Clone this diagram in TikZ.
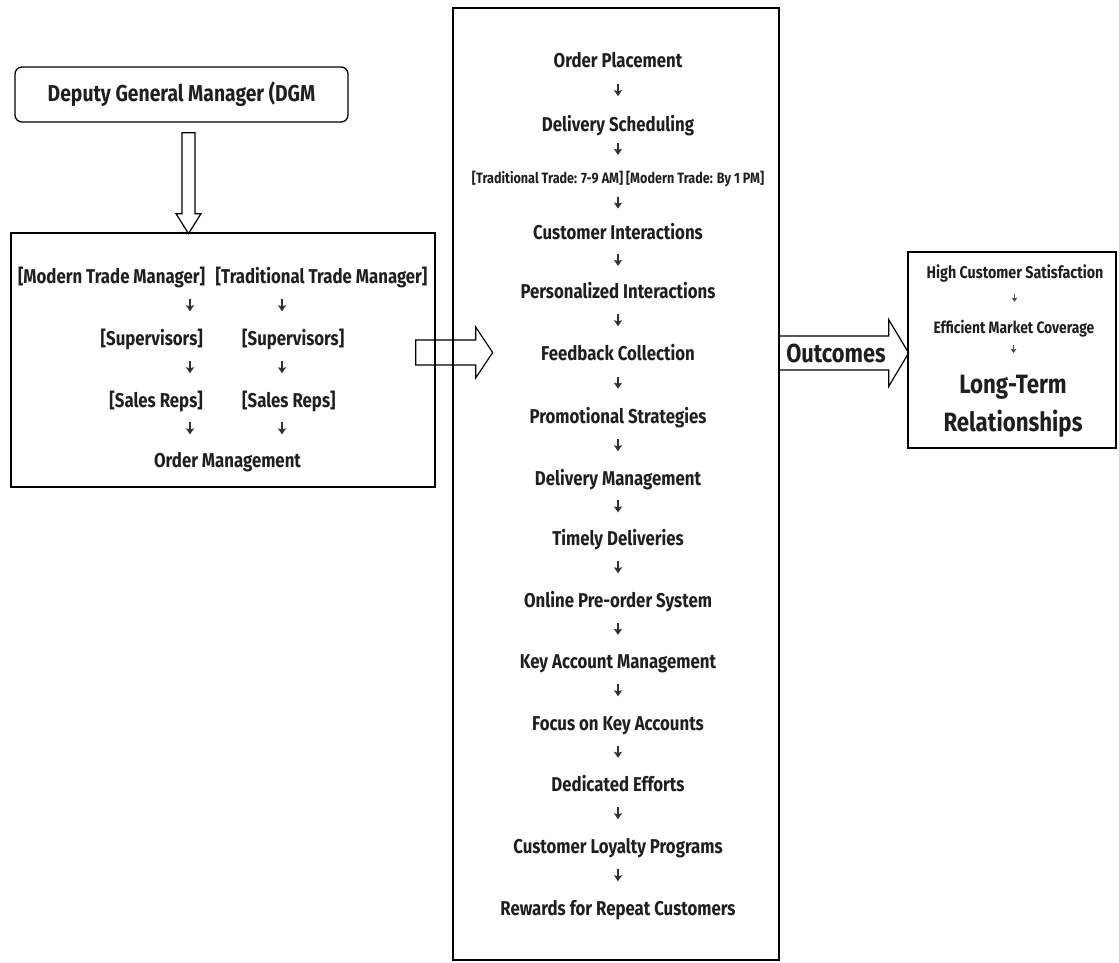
\documentclass[tikz,border=0pt]{standalone}
\usepackage{fontspec}
\setmainfont{Fira Sans}[FakeStretch=0.84]
\usetikzlibrary{positioning,calc,arrows.meta}
\tikzset{x=1pt, y=-1pt}
\tikzset{box/.style={draw, line width=1.3pt, inner sep=0pt}}
\tikzset{lbl/.style={inner sep=0pt, text height=14pt, text depth=4pt, text=black!88,
    font=\bfseries\fontsize{20}{22}\selectfont}}
\tikzset{hollow/.style={draw, line width=1.2pt, line join=miter}}
\tikzset{flowtick/.style={-{Stealth[length=6pt,width=8pt,inset=1pt]}, line width=1.5pt, draw=black!80,
    to path={($(\tikztostart)!#1!(\tikztotarget)$) ++(0,-6) -- ++(0,12)}},
  flowtick/.default=.44}
\tikzset{smalltick/.style={-{Stealth[length=4pt,width=5.5pt,inset=0.5pt]}, line width=1.1pt, draw=black!70,
    to path={($(\tikztostart)!#1!(\tikztotarget)$) ++(0,-4) -- ++(0,8)}},
  smalltick/.default=.45}

\begin{document}
\begin{tikzpicture}
\useasboundingbox (0,0) rectangle (1119,962);

% top manager
\node[box, rounded corners=7pt, minimum width=333pt, minimum height=55pt, text=black!88,
  font=\bfseries\fontsize{23}{27}\selectfont] (dgm) at (181.5,94.5) {Deputy General Manager (DGM};

% trade hierarchy
\node[box, minimum width=424pt, minimum height=254pt] (lbox) at (223,360) {};
\node[lbl] (mtm) at (111.5,278) {[Modern Trade Manager]};
\node[lbl] (ttm) at (321.5,278) {[Traditional Trade Manager]};
\node[lbl, anchor=east] (sup1) at (203,340) {[Supervisors]};
\node[lbl, anchor=west] (sup2) at (242,340) {[Supervisors]};
\node[lbl, anchor=east] (rep1) at (203,402) {[Sales Reps]};
\node[lbl, anchor=west] (rep2) at (242,402) {[Sales Reps]};
\node[lbl] (om) at (227.5,462) {Order Management};
\coordinate (colA) at (190,0);
\coordinate (colB) at (282,0);
\draw[flowtick] (mtm -| colA) to (sup1 -| colA);
\draw[flowtick] (sup1 -| colA) to (rep1 -| colA);
\draw[flowtick] (rep1 -| colA) to (om -| colA);
\draw[flowtick] (ttm -| colB) to (sup2 -| colB);
\draw[flowtick] (sup2 -| colB) to (rep2 -| colB);
\draw[flowtick] (rep2 -| colB) to (om -| colB);

% process chain
\node[box, minimum width=326pt, minimum height=952pt] (mbox) at (616,484) {};
\foreach \y/\t [count=\i] in {62/Order Placement, 126/Delivery Scheduling,
    178/{\fontsize{15}{17}\selectfont[Traditional Trade: 7-9 AM] [Modern Trade: By 1 PM]},
    234/Customer Interactions, 293/Personalized Interactions, 355/Feedback Collection,
    418/Promotional Strategies, 480/Delivery Management, 540/Timely Deliveries,
    602/Online Pre-order System, 663/Key Account Management, 725/Focus on Key Accounts,
    786/Dedicated Efforts, 848/Customer Loyalty Programs, 910/Rewards for Repeat Customers}
  \node[lbl] (m\i) at (618,\y) {\t};
\foreach \i [count=\j from 2] in {1,...,14}
  \draw[flowtick] (m\i) to (m\j);

% results
\node[box, minimum width=208pt, minimum height=196pt] (rbox) at (1012,350) {};
\node[lbl, font=\bfseries\fontsize{17}{19}\selectfont] (r1) at (1015,273) {High Customer Satisfaction};
\node[lbl, font=\bfseries\fontsize{16.5}{18}\selectfont] (r2) at (1014,328) {Efficient Market Coverage};
\node[inner sep=0pt, align=center, text=black!88,
  font=\bfseries\fontsize{26.5}{38}\selectfont] (r3) at (1013,406) {Long-Term\\Relationships};
\draw[smalltick=.45] (r1) to (r2);
\draw[smalltick] (r2) to (r3.north);

% block arrows
\draw[hollow] (dgm.south -| 188.5,0) ++(-6.5,10) -- ++(13,0) -- ++(0,81) -- ++(6,0)
  -- ++(-12.5,20) -- ++(-12.5,-20) -- ++(6,0) -- cycle;
\draw[hollow] (lbox.east |- 0,352.5) ++(-20,-12.5) -- ++(60,0) -- ++(0,-13) -- ++(17,25.5)
  -- ++(-17,25.5) -- ++(0,-13) -- ++(-60,0) -- cycle;
\draw[hollow] (mbox.east |- 0,353) ++(0,-17) -- ++(109,0) -- ++(0,-16.5) -- ++(20,33.5)
  -- ++(-20,33.5) -- ++(0,-16.5) -- ++(-109,0);
\node[inner sep=0pt, text=black!88, font=\bfseries\fontsize{26}{28}\selectfont] (out) at (836,353) {Outcomes};
\end{tikzpicture}
\end{document}
